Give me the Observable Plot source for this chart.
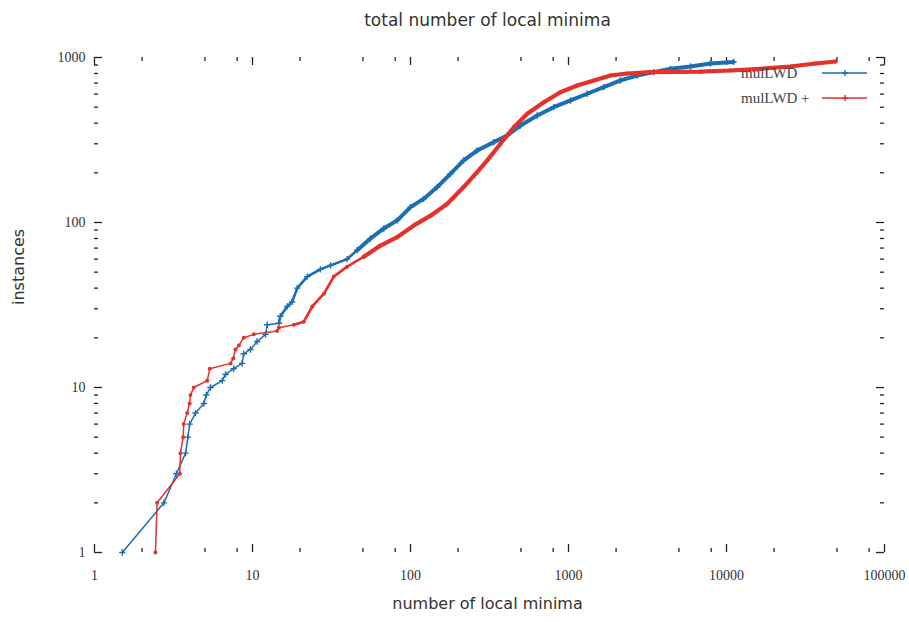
<!DOCTYPE html>
<html>
<head>
<meta charset="utf-8">
<script src="https://cdn.jsdelivr.net/npm/d3@7"></script>
<script src="https://cdn.jsdelivr.net/npm/@observablehq/plot@0.6"></script>
<style>
  html, body { margin: 0; padding: 0; background: #fff; }
  #chart { width: 909px; height: 622px; }
</style>
</head>
<body>
<div id="chart"></div>
<script>
// ---- data ----
const titleText = "total number of local minima";
const xLabelText = "number of local minima";
const yLabelText = "instances";
const seriesNames = ["mulLWD", "mulLWD +"];

const blueX = [1.5, 2.75, 3.3, 3.77, 3.9, 4.0, 4.36, 4.92, 5.1, 5.42, 6.43, 6.75, 7.6, 8.6, 8.8, 9.7, 10.7, 12.1, 12.4, 14.7, 15.0, 16.6, 17.8, 19.2, 22.2, 26.9, 31.2, 39.7, 46, 55.8, 67.8, 82.4, 100, 121, 147.6, 179, 217, 264, 337, 409, 497, 634, 807, 1030, 1313, 1672, 2134, 2722, 3467, 4423, 5918, 7920, 11070];
const blueY = [1, 2, 3, 4, 5, 6, 7, 8, 9, 10, 11, 12, 13, 14, 16, 17, 19, 21, 24, 24.5, 27, 31, 33, 40, 47, 52, 55, 60, 68, 80, 92, 103, 124, 139, 164, 197, 238, 273, 307, 337, 387, 445, 500, 549, 603, 661, 726, 778, 815, 854, 882, 920, 940];

const redX = [2.43, 2.49, 3.47, 3.5, 3.64, 3.67, 3.86, 4.0, 4.05, 4.25, 5.17, 5.37, 7.26, 7.55, 7.8, 8.2, 8.8, 10.2, 14.3, 14.7, 18.3, 21.1, 23.9, 28.3, 32.7, 39.7, 50.6, 64.6, 82.4, 105, 134, 171, 217, 264, 306, 371, 451, 548, 698, 889, 1135, 1446, 1845, 2352, 3304, 6842, 10600, 16400, 25400, 36600, 49000];
const redY = [1, 2, 3, 4, 5, 6, 7, 8, 9, 10, 11, 13, 14, 15, 17, 18, 20, 21, 22, 23, 24, 25, 31, 37, 47, 54, 62, 72.5, 81.5, 96, 110, 130, 164, 202, 238, 300, 378, 456, 536, 616, 676, 726, 778, 800, 815, 820, 834, 854, 882, 920, 946];

const xMajor = [1, 10, 100, 1000, 10000, 100000];
const xMinorMult = [2, 5, 8];
const yMajor = [1, 10, 100, 1000];
const yMinorMult = [2, 3, 4, 5, 6, 7, 8, 9];

// ---- build tables ----
const blue = blueX.map((x, i) => ({x, y: blueY[i]}));
const red = redX.map((x, i) => ({x, y: redY[i]}));
const xMinor = xMajor.slice(0, -1).flatMap(d => xMinorMult.map(m => d * m));
const yMinor = yMajor.slice(0, -1).flatMap(d => yMinorMult.map(m => d * m));

// ---- layout / style ----
const W = 909, H = 622;
const mL = 94, mR = 25, mT = 57, mB = 70;
const plotW = W - mL - mR, plotH = H - mT - mB;
const BLUE = "#1b6db4", RED = "#e5302b";
const serif = "'Liberation Serif', 'DejaVu Serif', serif";
const sans = "'DejaVu Sans', Verdana, sans-serif";
const tickColor = "#222";
const majorLen = 8, minorLen = 4;

const legend = () => {
  const g = d3.create("svg:g");
  const entries = [{name: seriesNames[0], color: BLUE, y: 73}, {name: seriesNames[1], color: RED, y: 98}];
  for (const e of entries) {
    g.append("text").attr("x", 741).attr("y", e.y).attr("dy", "0.35em").attr("text-anchor", "start")
      .attr("font-family", serif).attr("font-size", 15).attr("fill", "#444").text(e.name);
    g.append("line").attr("x1", 822).attr("x2", 867).attr("y1", e.y).attr("y2", e.y)
      .attr("stroke", e.color).attr("stroke-width", 1.6);
    g.append("path").attr("d", `M842,${e.y}h6M845,${e.y - 3}v6`).attr("stroke", e.color).attr("stroke-width", 1.4);
  }
  return g.node();
};

const chart = Plot.plot({
  width: W, height: H,
  marginLeft: mL, marginRight: mR, marginTop: mT, marginBottom: mB,
  style: {background: "#fff", color: "#333", overflow: "visible"},
  x: {type: "log", domain: [1, 100000], axis: null},
  y: {type: "log", domain: [1, 1000], axis: null},
  marks: [
    // tick labels
    Plot.axisX({ticks: xMajor, tickSize: 0, tickPadding: 18, tickFormat: d => `${d}`, label: null,
      fontFamily: serif, fontSize: 14}),
    Plot.axisY({ticks: yMajor, tickSize: 0, tickPadding: 9, tickFormat: d => `${d}`, label: null,
      fontFamily: serif, fontSize: 14}),
    // inward ticks on all four sides
    Plot.ruleX(xMajor, {x: d => d, insetTop: plotH - majorLen, stroke: tickColor, strokeWidth: 1.3}),
    Plot.ruleX(xMajor, {x: d => d, insetBottom: plotH - majorLen, stroke: tickColor, strokeWidth: 1.3}),
    Plot.ruleX(xMinor, {x: d => d, insetTop: plotH - minorLen, stroke: tickColor, strokeWidth: 1.3}),
    Plot.ruleX(xMinor, {x: d => d, insetBottom: plotH - minorLen, stroke: tickColor, strokeWidth: 1.3}),
    Plot.ruleY(yMajor, {y: d => d, insetRight: plotW - majorLen, stroke: tickColor, strokeWidth: 1.3}),
    Plot.ruleY(yMajor, {y: d => d, insetLeft: plotW - majorLen, stroke: tickColor, strokeWidth: 1.3}),
    Plot.ruleY(yMinor, {y: d => d, insetRight: plotW - minorLen, stroke: tickColor, strokeWidth: 1.3}),
    Plot.ruleY(yMinor, {y: d => d, insetLeft: plotW - minorLen, stroke: tickColor, strokeWidth: 1.3}),
    // series: blue
    Plot.line(blue, {x: "x", y: "y", stroke: BLUE, strokeWidth: 1.5}),
    Plot.line(blue.filter(d => d.x >= 14), {x: "x", y: "y", stroke: BLUE, strokeWidth: 2.6}),
    Plot.line(blue.filter(d => d.x >= 40), {x: "x", y: "y", stroke: BLUE, strokeWidth: 4}),
    Plot.dot(blue, {x: "x", y: "y", symbol: "plus", r: 2.2, stroke: BLUE, strokeWidth: 1.4}),
    // series: red
    Plot.line(red, {x: "x", y: "y", stroke: RED, strokeWidth: 1.5}),
    Plot.line(red.filter(d => d.x >= 18), {x: "x", y: "y", stroke: RED, strokeWidth: 2.6}),
    Plot.line(red.filter(d => d.x >= 40), {x: "x", y: "y", stroke: RED, strokeWidth: 4.2}),
    Plot.dot(red, {x: "x", y: "y", r: 2, fill: RED}),
    // titles
    Plot.text([titleText], {frameAnchor: "top", dy: -44, dx: -2, fontFamily: sans, fontSize: 17, fill: "#333"}),
    Plot.text([xLabelText], {frameAnchor: "bottom", dy: 56, dx: -2, fontFamily: sans, fontSize: 16, fill: "#333"}),
    Plot.text([yLabelText], {frameAnchor: "left", dx: -76, rotate: -90, fontFamily: sans, fontSize: 16, fill: "#333"}),
    legend
  ]
});
document.getElementById("chart").appendChild(chart);
</script>
</body>
</html>
